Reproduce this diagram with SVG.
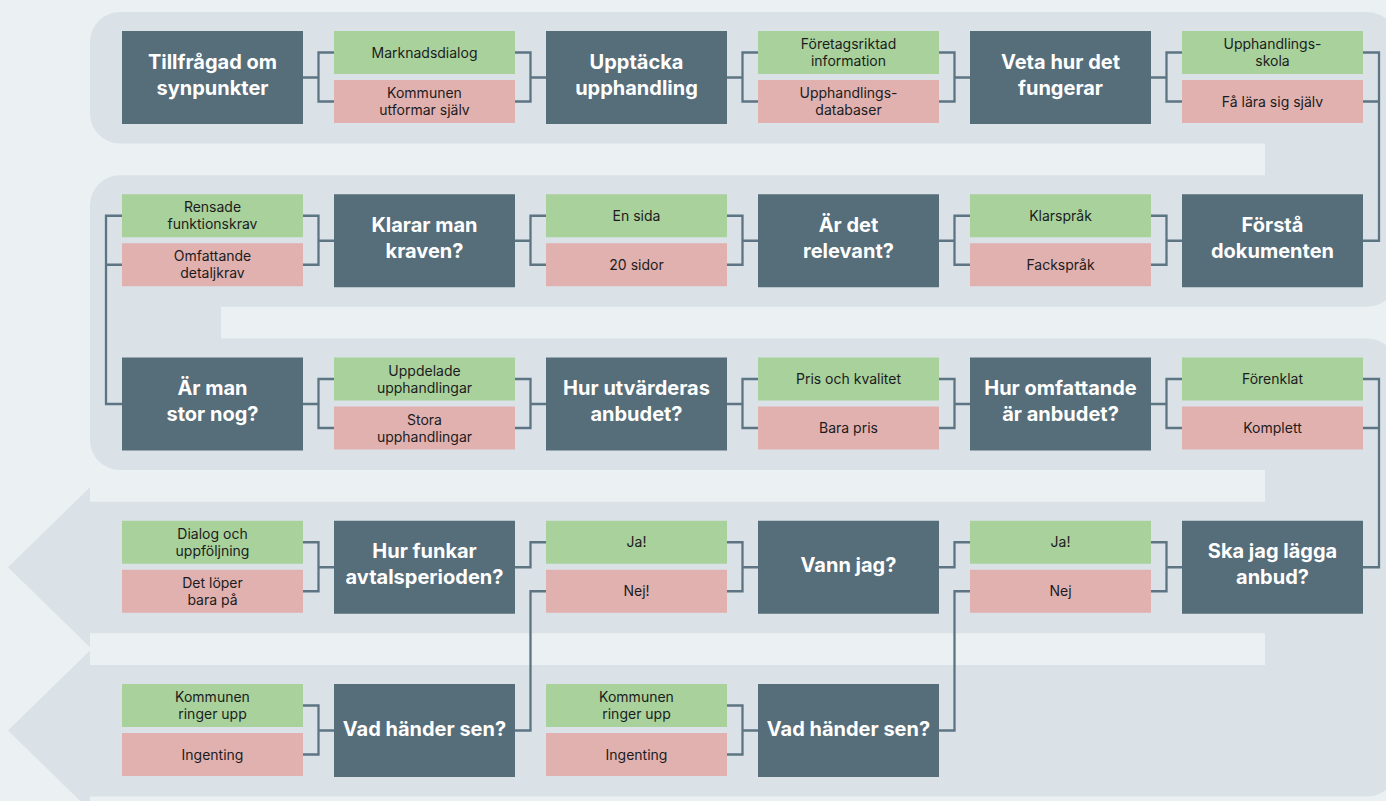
<svg xmlns="http://www.w3.org/2000/svg" width="1386" height="801" viewBox="0 0 1386 801">
<style>
.bg{fill:#EBF0F2}
.band{fill:#DAE2E8}
.d{fill:#566D7A}
.g{fill:#A8D19C}
.p{fill:#E1B1B0}
.t{font-family:Inter,"Liberation Sans",sans-serif;font-size:20px;font-weight:700;fill:#FFFFFF;text-anchor:middle}
.o{font-family:Inter,"Liberation Sans",sans-serif;font-size:14px;font-weight:400;fill:#1C1C1C;text-anchor:middle}
.c path{fill:none;stroke:#5D7482;stroke-width:2.3;stroke-linejoin:miter}
</style>
<rect class="bg" x="0" y="0" width="1386" height="801"/>
<g id="band">
<rect class="band" x="90" y="12" width="1307" height="131.5" rx="30"/>
<rect class="band" x="90" y="175.25" width="1307" height="131.5" rx="30"/>
<rect class="band" x="90" y="338.5" width="1307" height="131.5" rx="30"/>
<rect class="band" x="90" y="501.75" width="1307" height="131.5"/>
<path class="band" d="M90,665 H1397 V766.5 A30,30 0 0 1 1367,796.5 H90 Z"/>
<rect class="band" x="1265" y="100" width="132" height="120"/>
<rect class="band" x="90" y="280" width="131" height="90"/>
<rect class="band" x="1265" y="420" width="132" height="300"/>
<polygon class="band" points="90,487.25 8,567.25 90,647.25"/>
<polygon class="band" points="90,650.5 8,730.5 90,810.5"/>
</g>
<g id="connectors" class="c">
<path d="M303,77.5 H318.5 M334,52.5 H318.5 V101.5 H334"/>
<path d="M515,52.5 H530.5 V101.5 H515 M530.5,77.5 H546"/>
<path d="M727,77.5 H742.5 M758,52.5 H742.5 V101.5 H758"/>
<path d="M939,52.5 H954.5 V101.5 H939 M954.5,77.5 H970"/>
<path d="M1151,77.5 H1166.5 M1182,52.5 H1166.5 V101.5 H1182"/>
<path d="M1363,52.5 H1379 V240.75 H1363 M1363,101.5 H1379"/>
<path d="M1182,240.75 H1166.5 M1151,215.75 H1166.5 V264.75 H1151"/>
<path d="M970,215.75 H954.5 V264.75 H970 M954.5,240.75 H939"/>
<path d="M758,240.75 H742.5 M727,215.75 H742.5 V264.75 H727"/>
<path d="M546,215.75 H530.5 V264.75 H546 M530.5,240.75 H515"/>
<path d="M334,240.75 H318.5 M303,215.75 H318.5 V264.75 H303"/>
<path d="M122,215.75 H106 V404 H122 M122,264.75 H106"/>
<path d="M303,404 H318.5 M334,379 H318.5 V428 H334"/>
<path d="M515,379 H530.5 V428 H515 M530.5,404 H546"/>
<path d="M727,404 H742.5 M758,379 H742.5 V428 H758"/>
<path d="M939,379 H954.5 V428 H939 M954.5,404 H970"/>
<path d="M1151,404 H1166.5 M1182,379 H1166.5 V428 H1182"/>
<path d="M1363,379 H1379 V567.25 H1363 M1363,428 H1379"/>
<path d="M1182,567.25 H1166.5 M1151,542.25 H1166.5 V591.25 H1151"/>
<path d="M970,542.25 H954.5 V567.25 H939"/>
<path d="M970,591.25 H954.5 V730.5 H939"/>
<path d="M758,567.25 H742.5 M727,542.25 H742.5 V591.25 H727"/>
<path d="M546,542.25 H530.5 V567.25 H515"/>
<path d="M546,591.25 H530.5 V730.5 H515"/>
<path d="M334,567.25 H318.5 M303,542.25 H318.5 V591.25 H303"/>
<path d="M334,730.5 H318.5 M303,705.5 H318.5 V754.5 H303"/>
<path d="M758,730.5 H742.5 M727,705.5 H742.5 V754.5 H727"/>
</g>

<!-- Row 1 -->
<g id="n-tillfragad"><rect class="d" x="122" y="31" width="181" height="93"/><text class="t" x="212.5" y="68.5">Tillfrågad om</text><text class="t" x="212.5" y="94.5">synpunkter</text></g>
<g id="o-marknadsdialog"><rect class="g" x="334" y="31" width="181" height="43"/><text class="o" x="424.5" y="57.5">Marknadsdialog</text></g>
<g id="o-kommunen-utformar"><rect class="p" x="334" y="80" width="181" height="43"/><text class="o" x="424.5" y="98">Kommunen</text><text class="o" x="424.5" y="115">utformar själv</text></g>
<g id="n-upptacka"><rect class="d" x="546" y="31" width="181" height="93"/><text class="t" x="636.5" y="68.5">Upptäcka</text><text class="t" x="636.5" y="94.5">upphandling</text></g>
<g id="o-foretagsriktad"><rect class="g" x="758" y="31" width="181" height="43"/><text class="o" x="848.5" y="49">Företagsriktad</text><text class="o" x="848.5" y="66">information</text></g>
<g id="o-databaser"><rect class="p" x="758" y="80" width="181" height="43"/><text class="o" x="848.5" y="98">Upphandlings-</text><text class="o" x="848.5" y="115">databaser</text></g>
<g id="n-veta"><rect class="d" x="970" y="31" width="181" height="93"/><text class="t" x="1060.5" y="68.5">Veta hur det</text><text class="t" x="1060.5" y="94.5">fungerar</text></g>
<g id="o-skola"><rect class="g" x="1182" y="31" width="181" height="43"/><text class="o" x="1272.5" y="49">Upphandlings-</text><text class="o" x="1272.5" y="66">skola</text></g>
<g id="o-lara-sjalv"><rect class="p" x="1182" y="80" width="181" height="43"/><text class="o" x="1272.5" y="106.5">Få lära sig själv</text></g>

<!-- Row 2 -->
<g id="o-rensade"><rect class="g" x="122" y="194.25" width="181" height="43"/><text class="o" x="212.5" y="212.25">Rensade</text><text class="o" x="212.5" y="229.25">funktionskrav</text></g>
<g id="o-omfattande"><rect class="p" x="122" y="243.25" width="181" height="43"/><text class="o" x="212.5" y="261.25">Omfattande</text><text class="o" x="212.5" y="278.25">detaljkrav</text></g>
<g id="n-klarar"><rect class="d" x="334" y="194.25" width="181" height="93"/><text class="t" x="424.5" y="231.75">Klarar man</text><text class="t" x="424.5" y="257.75">kraven?</text></g>
<g id="o-en-sida"><rect class="g" x="546" y="194.25" width="181" height="43"/><text class="o" x="636.5" y="220.75">En sida</text></g>
<g id="o-20-sidor"><rect class="p" x="546" y="243.25" width="181" height="43"/><text class="o" x="636.5" y="269.75">20 sidor</text></g>
<g id="n-relevant"><rect class="d" x="758" y="194.25" width="181" height="93"/><text class="t" x="848.5" y="231.75">Är det</text><text class="t" x="848.5" y="257.75">relevant?</text></g>
<g id="o-klarsprak"><rect class="g" x="970" y="194.25" width="181" height="43"/><text class="o" x="1060.5" y="220.75">Klarspråk</text></g>
<g id="o-facksprak"><rect class="p" x="970" y="243.25" width="181" height="43"/><text class="o" x="1060.5" y="269.75">Fackspråk</text></g>
<g id="n-forsta"><rect class="d" x="1182" y="194.25" width="181" height="93"/><text class="t" x="1272.5" y="231.75">Förstå</text><text class="t" x="1272.5" y="257.75">dokumenten</text></g>

<!-- Row 3 -->
<g id="n-stor-nog"><rect class="d" x="122" y="357.5" width="181" height="93"/><text class="t" x="212.5" y="395">Är man</text><text class="t" x="212.5" y="421">stor nog?</text></g>
<g id="o-uppdelade"><rect class="g" x="334" y="357.5" width="181" height="43"/><text class="o" x="424.5" y="375.5">Uppdelade</text><text class="o" x="424.5" y="392.5">upphandlingar</text></g>
<g id="o-stora"><rect class="p" x="334" y="406.5" width="181" height="43"/><text class="o" x="424.5" y="424.5">Stora</text><text class="o" x="424.5" y="441.5">upphandlingar</text></g>
<g id="n-utvarderas"><rect class="d" x="546" y="357.5" width="181" height="93"/><text class="t" x="636.5" y="395">Hur utvärderas</text><text class="t" x="636.5" y="421">anbudet?</text></g>
<g id="o-pris-kvalitet"><rect class="g" x="758" y="357.5" width="181" height="43"/><text class="o" x="848.5" y="384">Pris och kvalitet</text></g>
<g id="o-bara-pris"><rect class="p" x="758" y="406.5" width="181" height="43"/><text class="o" x="848.5" y="433">Bara pris</text></g>
<g id="n-omfattande"><rect class="d" x="970" y="357.5" width="181" height="93"/><text class="t" x="1060.5" y="395">Hur omfattande</text><text class="t" x="1060.5" y="421">är anbudet?</text></g>
<g id="o-forenklat"><rect class="g" x="1182" y="357.5" width="181" height="43"/><text class="o" x="1272.5" y="384">Förenklat</text></g>
<g id="o-komplett"><rect class="p" x="1182" y="406.5" width="181" height="43"/><text class="o" x="1272.5" y="433">Komplett</text></g>

<!-- Row 4 -->
<g id="o-dialog"><rect class="g" x="122" y="520.75" width="181" height="43"/><text class="o" x="212.5" y="538.75">Dialog och</text><text class="o" x="212.5" y="555.75">uppföljning</text></g>
<g id="o-loper"><rect class="p" x="122" y="569.75" width="181" height="43"/><text class="o" x="212.5" y="587.75">Det löper</text><text class="o" x="212.5" y="604.75">bara på</text></g>
<g id="n-avtalsperioden"><rect class="d" x="334" y="520.75" width="181" height="93"/><text class="t" x="424.5" y="558.25">Hur funkar</text><text class="t" x="424.5" y="584.25">avtalsperioden?</text></g>
<g id="o-ja-1"><rect class="g" x="546" y="520.75" width="181" height="43"/><text class="o" x="636.5" y="547.25">Ja!</text></g>
<g id="o-nej-1"><rect class="p" x="546" y="569.75" width="181" height="43"/><text class="o" x="636.5" y="596.25">Nej!</text></g>
<g id="n-vann"><rect class="d" x="758" y="520.75" width="181" height="93"/><text class="t" x="848.5" y="572.25">Vann jag?</text></g>
<g id="o-ja-2"><rect class="g" x="970" y="520.75" width="181" height="43"/><text class="o" x="1060.5" y="547.25">Ja!</text></g>
<g id="o-nej-2"><rect class="p" x="970" y="569.75" width="181" height="43"/><text class="o" x="1060.5" y="596.25">Nej</text></g>
<g id="n-lagga-anbud"><rect class="d" x="1182" y="520.75" width="181" height="93"/><text class="t" x="1272.5" y="558.25">Ska jag lägga</text><text class="t" x="1272.5" y="584.25">anbud?</text></g>

<!-- Row 5 -->
<g id="o-ringer-1"><rect class="g" x="122" y="684" width="181" height="43"/><text class="o" x="212.5" y="702">Kommunen</text><text class="o" x="212.5" y="719">ringer upp</text></g>
<g id="o-ingenting-1"><rect class="p" x="122" y="733" width="181" height="43"/><text class="o" x="212.5" y="759.5">Ingenting</text></g>
<g id="n-sen-1"><rect class="d" x="334" y="684" width="181" height="93"/><text class="t" x="424.5" y="735.5">Vad händer sen?</text></g>
<g id="o-ringer-2"><rect class="g" x="546" y="684" width="181" height="43"/><text class="o" x="636.5" y="702">Kommunen</text><text class="o" x="636.5" y="719">ringer upp</text></g>
<g id="o-ingenting-2"><rect class="p" x="546" y="733" width="181" height="43"/><text class="o" x="636.5" y="759.5">Ingenting</text></g>
<g id="n-sen-2"><rect class="d" x="758" y="684" width="181" height="93"/><text class="t" x="848.5" y="735.5">Vad händer sen?</text></g>
</svg>
